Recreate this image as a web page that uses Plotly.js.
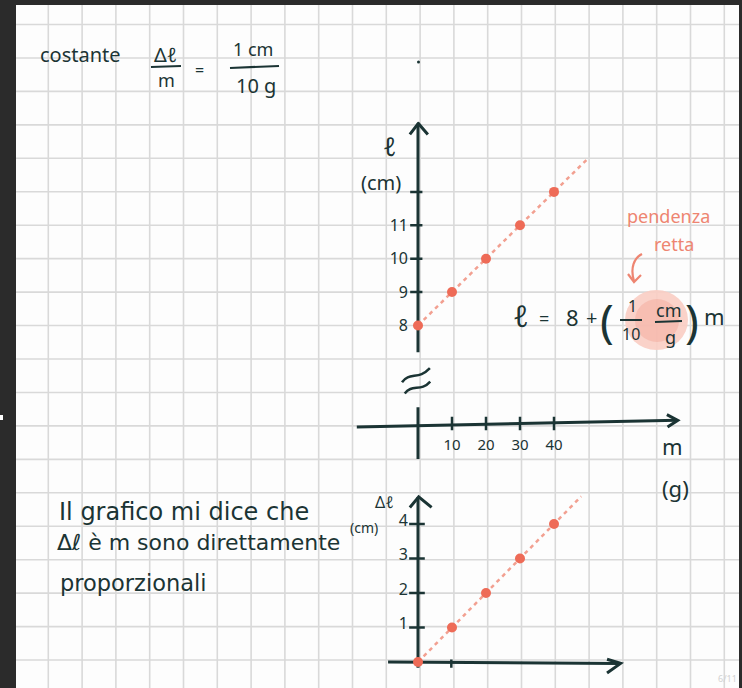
<!DOCTYPE html>
<html>
<head>
<meta charset="utf-8">
<script src="https://cdn.plot.ly/plotly-3.0.1.min.js"></script>
<style>
  html, body { margin: 0; padding: 0; background: #2b2b2b; }
  #chart { width: 742px; height: 688px; }
</style>
</head>
<body>
<div id="chart"></div>
<script>
// Masse appese alla molla (g) e lunghezze misurate (cm)
const masse = [0, 10, 20, 30, 40];
const lunghezze = [8, 9, 10, 11, 12];
const allungamenti = [0, 1, 2, 3, 4];

// Retta tratteggiata che prosegue oltre l'ultima misura
const masseRetta = [0, 50];
const lunghezzeRetta = [8, 13];
const masseRettaDelta = [0, 48];
const allungamentiRetta = [0, 4.8];

// Etichette degli assi
const tickMasse = [10, 20, 30, 40];
const tickLunghezze = [8, 9, 10, 11];
const tickLunghezzeSegni = [9, 10, 11, 12];
const tickAllungamenti = [1, 2, 3, 4];

const W = 742, H = 688;
const X = p => p / W;
const Y = p => 1 - p / H;

const INK = '#1b3434';
const DOT = '#ee6b57';
const DASH = '#f2a091';
const NOTE = '#ee8571';
const GRID = '#d9d9d9';
const FONT = 'Noto Sans, DejaVu Sans, sans-serif';
const FONT_WIDE = 'DejaVu Sans, Noto Sans, sans-serif';

// converte un percorso scritto in pixel della pagina in coordinate paper
function pathPx(str) {
  return str.replace(/(-?[\d.]+),(-?[\d.]+)/g, (m, a, b) => X(+a).toFixed(5) + ',' + Y(+b).toFixed(5));
}
function txt(t, x, y, size, extra) {
  return Object.assign({
    text: t, x: X(x), y: Y(y), xref: 'paper', yref: 'paper', showarrow: false,
    xanchor: 'center', yanchor: 'middle',
    font: { family: FONT, size: size, color: INK }
  }, extra || {});
}
function linePx(x0, y0, x1, y1, color, width) {
  return { type: 'line', xref: 'paper', yref: 'paper', layer: 'below',
    x0: X(x0), y0: Y(y0), x1: X(x1), y1: Y(y1),
    line: { color: color, width: width } };
}
function ink(ref, props) {
  return Object.assign({ xref: ref[0], yref: ref[1], layer: 'below',
    line: { color: INK, width: 3 } }, props);
}

const shapes = [];
// foglio bianco dentro la cornice scura
shapes.push({ type: 'rect', xref: 'paper', yref: 'paper', layer: 'below',
  x0: X(16), x1: X(739), y0: Y(5), y1: Y(688),
  fillcolor: '#fdfdfd', line: { width: 0 } });
// quadretti
for (let k = 1; k <= 21; k++) {
  const gx = 14.5 + 33.8 * k;
  shapes.push(linePx(gx, 5, gx, 688, GRID, 1.6));
}
for (let k = 0; k <= 19; k++) {
  const gy = 24.5 + 33.45 * k;
  shapes.push(linePx(16, gy, 739, gy, GRID, 1.6));
}

// macchia rosa attorno alla pendenza
shapes.push({ type: 'circle', xref: 'paper', yref: 'paper', layer: 'below',
  x0: X(625), x1: X(688), y0: Y(290), y1: Y(350),
  fillcolor: '#f9cdc3', line: { width: 0 }, opacity: 0.9 });
shapes.push({ type: 'circle', xref: 'paper', yref: 'paper', layer: 'below',
  x0: X(635), x1: X(679), y0: Y(299), y1: Y(342),
  fillcolor: '#f4aa9b', line: { width: 0 }, opacity: 0.5 });

// assi del primo grafico (asse verticale interrotto)
const A1 = ['x', 'y'];
shapes.push(ink(A1, { type: 'line', x0: 0, x1: 0, y0: 14.05, y1: 7.2 }));
shapes.push(ink(A1, { type: 'line', x0: 0, x1: 0, y0: 5.55, y1: 4.0 }));
shapes.push(ink(A1, { type: 'path', path: 'M -2.4,13.72 L 0.1,14.05 L 2.9,13.72' }));
shapes.push(ink(A1, { type: 'path', path: 'M -4.7,6.3 C -2.6,6.62 0.2,6.36 3.5,6.72', line: { color: INK, width: 2.5 } }));
shapes.push(ink(A1, { type: 'path', path: 'M -3.9,5.96 C -1.8,6.26 0.8,6.0 3.6,6.32', line: { color: INK, width: 2.5 } }));
tickLunghezzeSegni.forEach(v => shapes.push(ink(A1, { type: 'line', x0: -2.3, x1: 1.3, y0: v, y1: v, line: { color: INK, width: 2.5 } })));
shapes.push(ink(A1, { type: 'line', x0: -18, x1: 76.2, y0: 4.96, y1: 5.16 }));
shapes.push(ink(A1, { type: 'path', path: 'M 73.2,5.33 L 76.4,5.16 L 73.4,4.96' }));
tickMasse.forEach(v => shapes.push(ink(A1, { type: 'line', x0: v, x1: v, y0: 4.86, y1: 5.27, line: { color: INK, width: 2.5 } })));

// assi del secondo grafico
const A2 = ['x2', 'y2'];
shapes.push(ink(A2, { type: 'line', x0: 0, x1: 0, y0: -0.17, y1: 4.78 }));
shapes.push(ink(A2, { type: 'path', path: 'M -2.4,4.48 L 0.2,4.79 L 4.0,4.48' }));
shapes.push(ink(A2, { type: 'line', x0: -8.8, x1: 59.4, y0: 0.0, y1: -0.04 }));
shapes.push(ink(A2, { type: 'path', path: 'M 55.6,0.08 L 59.6,-0.04 L 55.6,-0.32' }));
shapes.push(ink(A2, { type: 'line', x0: 9.8, x1: 9.8, y0: 0.07, y1: -0.17, line: { color: INK, width: 2.5 } }));
tickAllungamenti.forEach(v => shapes.push(ink(A2, { type: 'line', x0: -2.6, x1: 2.0, y0: v, y1: v, line: { color: INK, width: 2.5 } })));

// linee di frazione
shapes.push(linePx(151, 67, 181, 66, INK, 2.2));
shapes.push(linePx(230, 68, 279, 66, INK, 2.2));
shapes.push(linePx(620, 320, 642, 320, INK, 2));
shapes.push(linePx(655, 322, 682, 321, INK, 2));
// punto isolato sul foglio
shapes.push({ type: 'circle', xref: 'paper', yref: 'paper', layer: 'below',
  x0: X(417), x1: X(420), y0: Y(60.5), y1: Y(63.5), fillcolor: INK, line: { width: 0 } });
// freccia della nota "pendenza retta"
shapes.push({ type: 'path', xref: 'paper', yref: 'paper', layer: 'below',
  path: pathPx('M 642,254 C 634,258 630,268 634,281'), line: { color: NOTE, width: 2.2 } });
shapes.push({ type: 'path', xref: 'paper', yref: 'paper', layer: 'below',
  path: pathPx('M 628,274 L 634,282 L 641,275'), line: { color: NOTE, width: 2.2 } });
// segnetto bianco sul bordo
shapes.push({ type: 'rect', xref: 'paper', yref: 'paper', layer: 'below',
  x0: X(0), x1: X(3), y0: Y(415), y1: Y(420), fillcolor: '#ffffff', line: { width: 0 } });

const annotations = [
  txt('costante', 80, 54, 20),
  txt('Δℓ', 165, 54, 20),
  txt('m', 166, 80, 18),
  txt('=', 200, 70, 16),
  txt('1 cm', 253, 49, 18),
  txt('10 g', 256, 85, 20),

  txt('ℓ', 390, 146, 26),
  txt('(cm)', 381, 182, 20),
  txt('m', 672, 446, 22),
  txt('(g)', 675, 488, 22),

  txt('pendenza', 668, 216, 18, { font: { family: FONT, size: 18, color: NOTE } }),
  txt('retta', 674, 244, 18, { font: { family: FONT, size: 18, color: NOTE } }),
  txt('ℓ', 521, 315, 30),
  txt('=', 544, 318, 18),
  txt('8', 572, 317, 22),
  txt('+', 591, 318, 20),
  txt('(', 607, 320, 46),
  txt('1', 632, 306, 16),
  txt('10', 631, 334, 16),
  txt('cm', 668, 310, 18),
  txt('g', 670, 337, 18),
  txt(')', 692, 320, 46),
  txt('m', 714, 316, 22),

  txt('Il grafico mi dice che', 57, 512, 24, { xanchor: 'left', font: { family: FONT_WIDE, size: 24, color: INK } }),
  txt('Δℓ è m sono direttamente', 55, 542, 22, { xanchor: 'left', font: { family: FONT_WIDE, size: 22, color: INK } }),
  txt('proporzionali', 58, 583, 22.5, { xanchor: 'left', font: { family: FONT_WIDE, size: 22.5, color: INK } }),

  txt('Δℓ', 384, 502, 16),
  txt('(cm)', 364, 527, 14),

  txt('6/11', 727, 678, 9, { font: { family: FONT, size: 9, color: '#d2d2d2' } })
];

const traces = [
  { x: masseRetta, y: lunghezzeRetta, xaxis: 'x', yaxis: 'y', mode: 'lines',
    line: { color: DASH, width: 2.5, dash: '4px,4px' }, hoverinfo: 'skip' },
  { x: masse, y: lunghezze, xaxis: 'x', yaxis: 'y', mode: 'markers',
    marker: { color: DOT, size: 10 } },
  { x: masseRettaDelta, y: allungamentiRetta, xaxis: 'x2', yaxis: 'y2', mode: 'lines',
    line: { color: DASH, width: 2.5, dash: '4px,4px' }, hoverinfo: 'skip' },
  { x: masse, y: allungamenti, xaxis: 'x2', yaxis: 'y2', mode: 'markers',
    marker: { color: DOT, size: 10 } }
];

const axisBase = {
  showgrid: false, zeroline: false, showline: false, ticks: '',
  tickfont: { family: FONT, size: 15, color: INK }, fixedrange: true
};

const layout = {
  width: W, height: H,
  margin: { l: 0, r: 0, t: 0, b: 0 },
  paper_bgcolor: '#2b2b2b',
  plot_bgcolor: 'rgba(0,0,0,0)',
  showlegend: false,
  xaxis: Object.assign({}, axisBase, {
    domain: [350 / W, 703.6 / W], range: [-20, 84],
    anchor: 'free', position: Y(426),
    tickvals: tickMasse, ticktext: tickMasse.map(String),
    ticklabelstandoff: 8
  }),
  yaxis: Object.assign({}, axisBase, {
    domain: [Y(462.4), Y(121.76)], range: [3.9, 14.1],
    anchor: 'free', position: X(418),
    tickvals: tickLunghezze, ticktext: tickLunghezze.map(String),
    ticklabelstandoff: 10,
    tickfont: { family: FONT, size: 16, color: INK }
  }),
  xaxis2: Object.assign({}, axisBase, {
    domain: [350 / W, 703.6 / W], range: [-20, 84],
    anchor: 'free', position: Y(662.5), showticklabels: false
  }),
  yaxis2: Object.assign({}, axisBase, {
    domain: [Y(679.25), Y(489.5)], range: [-0.5, 5],
    anchor: 'free', position: X(418),
    tickvals: tickAllungamenti, ticktext: tickAllungamenti.map(String),
    ticklabelstandoff: 10, ticklabelshift: -4,
    tickfont: { family: FONT, size: 16, color: INK }
  }),
  shapes: shapes,
  annotations: annotations
};

Plotly.newPlot('chart', traces, layout, { staticPlot: true, displayModeBar: false });
</script>
</body>
</html>
